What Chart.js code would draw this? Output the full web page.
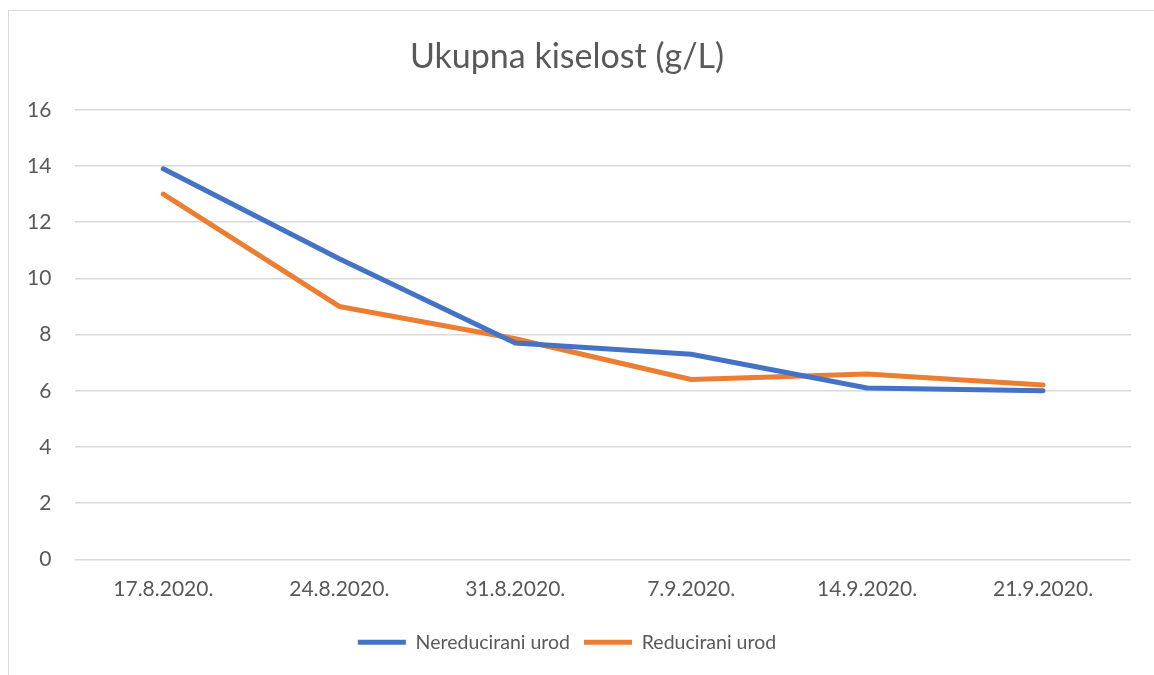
<!DOCTYPE html>
<html>
<head>
<meta charset="utf-8">
<script src="https://cdn.jsdelivr.net/npm/chart.js@4"></script>
<style>
  html, body { margin: 0; padding: 0; background: #fff; }
  #wrap { position: absolute; left: 0; top: 0; width: 1154px; height: 675px; }
  #frame { position: absolute; left: 8px; top: 10px; width: 1200px; height: 700px; border: 1px solid #d9d9d9; box-sizing: border-box; }
</style>
</head>
<body>
<div id="frame"></div>
<div id="wrap"><canvas id="myChart" width="1154" height="675"></canvas></div>
<script>
// podaci
var datumi = ['17.8.2020.', '24.8.2020.', '31.8.2020.', '7.9.2020.', '14.9.2020.', '21.9.2020.'];
var nereducirani = [13.9, 10.7, 7.7, 7.3, 6.1, 6.0];
var reducirani = [13.0, 9.0, 7.85, 6.4, 6.6, 6.2];
var yTicks = [0, 2, 4, 6, 8, 10, 12, 14, 16];

var fontFam = 'Lato, "Open Sans", sans-serif';
var textCol = '#595959';

var ctx = document.getElementById('myChart').getContext('2d');
var myChart = new Chart(ctx, {
    type: 'line',
    data: {
        labels: datumi,
        datasets: [{
            label: 'Nereducirani urod',
            data: nereducirani,
            borderColor: '#4472C4',
            backgroundColor: '#4472C4',
            borderWidth: 5,
            borderCapStyle: 'round',
            borderJoinStyle: 'round',
            pointRadius: 0,
            tension: 0
        }, {
            label: 'Reducirani urod',
            data: reducirani,
            borderColor: '#ED7D31',
            backgroundColor: '#ED7D31',
            borderWidth: 5,
            borderCapStyle: 'round',
            borderJoinStyle: 'round',
            pointRadius: 0,
            tension: 0
        }]
    },
    options: {
        responsive: false,
        animation: false,
        layout: {
            padding: { top: 37, left: 3, right: 23, bottom: 13 }
        },
        plugins: {
            title: {
                display: true,
                text: 'Ukupna kiselost (g/L)',
                color: textCol,
                font: { family: fontFam, size: 34, weight: 'normal' },
                padding: { top: 0, bottom: 32 }
            },
            legend: {
                position: 'bottom',
                labels: {
                    usePointStyle: true,
                    pointStyle: 'line',
                    pointStyleWidth: 48,
                    boxWidth: 48,
                    color: textCol,
                    font: { family: fontFam, size: 19.5 },
                    padding: 14
                }
            },
            tooltip: { enabled: false }
        },
        scales: {
            x: {
                offset: true,
                grid: { display: false, drawTicks: false },
                border: { display: false },
                ticks: {
                    color: textCol,
                    font: { family: fontFam, size: 21 },
                    padding: 17,
                    maxRotation: 0
                }
            },
            y: {
                min: 0,
                max: 16,
                afterBuildTicks: function (axis) {
                    axis.ticks = yTicks.map(function (v) { return { value: v }; });
                },
                grid: { color: '#d9d9d9', lineWidth: 1.5, drawTicks: false },
                border: { display: false },
                ticks: {
                    color: textCol,
                    font: { family: fontFam, size: 21 },
                    padding: 24
                }
            }
        }
    }
});
</script>
</body>
</html>
